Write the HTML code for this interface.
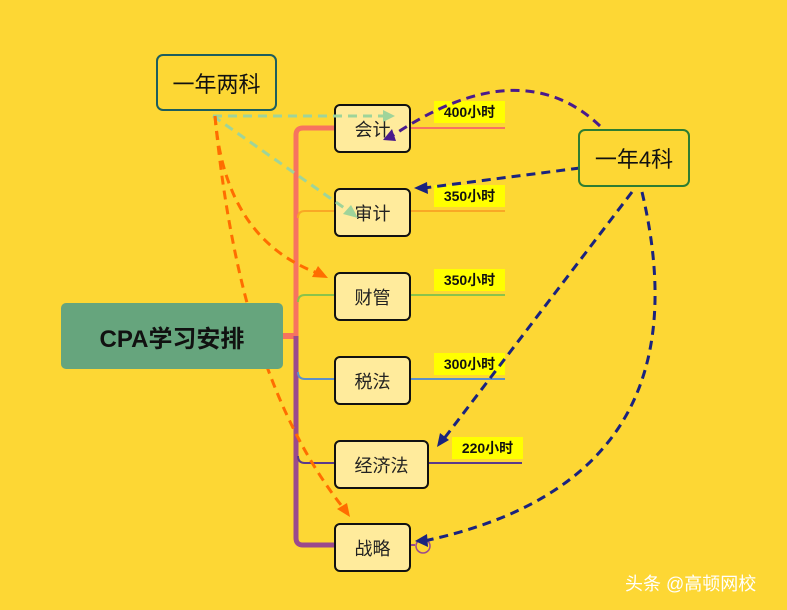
<!DOCTYPE html>
<html><head><meta charset="utf-8"><style>
body{margin:0;width:787px;height:610px;background:#fdd734;overflow:hidden;position:relative;font-family:"Liberation Sans","Noto Sans CJK SC",sans-serif}
.n{position:absolute;width:73px;height:45px;border:2px solid #111;border-radius:6px;background:#ffeb9c;font-size:18px;color:#222;display:flex;align-items:center;justify-content:center}
.l{position:absolute;background:#ffff00;font-size:14px;font-weight:bold;width:71px;height:22px;line-height:22px;text-align:center;color:#111}
.b{position:absolute;border-radius:7px;display:flex;align-items:center;justify-content:center;font-size:22px;color:#111;border:2px solid;z-index:3}
</style></head><body>
<svg width="787" height="610" style="position:absolute;left:0;top:0">
<path d="M283 336 H296" stroke="#f7735f" stroke-width="6"/>
<path d="M296 336 V135 Q296 128 303 128 H334" stroke="#f7735f" stroke-width="5" fill="none"/>
<path d="M296 336 V538 Q296 545 303 545 H334" stroke="#9b4a8c" stroke-width="5" fill="none"/>
<path d="M409 128 H505" stroke="#f7735f" stroke-width="2"/>
<path d="M298 218 Q298 211 305 211 H334 M409 211 H505" stroke="#f9a825" stroke-width="2" fill="none"/>
<path d="M298 302 Q298 295 305 295 H334 M409 295 H505" stroke="#8bc34a" stroke-width="2" fill="none"/>
<path d="M298 372 Q298 379 305 379 H334 M409 379 H505" stroke="#5c8fc9" stroke-width="2" fill="none"/>
<path d="M298 456 Q298 463 305 463 H334 M427 463 H522" stroke="#5b3a8a" stroke-width="2" fill="none"/>
<path d="M409 545 H415" stroke="#9b4a8c" stroke-width="2"/>
<circle cx="423" cy="546" r="7" fill="#fdd734" stroke="#9b4a8c" stroke-width="1.5"/>
</svg>
<div class="n" style="left:334px;top:104px">会计</div>
<div class="n" style="left:334px;top:188px">审计</div>
<div class="n" style="left:334px;top:272px">财管</div>
<div class="n" style="left:334px;top:356px">税法</div>
<div class="n" style="left:334px;top:440px;width:91px">经济法</div>
<div class="n" style="left:334px;top:523px">战略</div>
<div class="l" style="left:434px;top:101px">400小时</div>
<div class="l" style="left:434px;top:185px">350小时</div>
<div class="l" style="left:434px;top:269px">350小时</div>
<div class="l" style="left:434px;top:353px">300小时</div>
<div class="l" style="left:452px;top:437px">220小时</div>
<svg width="787" height="610" style="position:absolute;left:0;top:0;z-index:2">
<g fill="none" stroke-width="3" stroke-dasharray="9 6">
<path d="M213 116 H385" stroke="#9fd49a"/>
<path d="M213 116 L350 212" stroke="#9fd49a"/>
<path d="M215 116 Q225 240 320 274" stroke="#ff6d00"/>
<path d="M215 116 Q240 380 345 510" stroke="#ff6d00"/>
<path d="M600 126 Q520 50 392 136" stroke="#4a1a8c"/>
<path d="M580 168 L424 188" stroke="#1a237e"/>
<path d="M632 192 L443 440" stroke="#1a237e"/>
<path d="M642 192 Q710 480 424 541" stroke="#1a237e"/>
</g>
<polygon points="395,116 383,110 383,122" fill="#9fd49a"/>
<polygon points="358,218 343,214 351,205" fill="#9fd49a"/>
<polygon points="328,278 312,277 318,266" fill="#ff6d00"/>
<polygon points="350,517 337,509 347,503" fill="#ff6d00"/>
<polygon points="383,140 392,129 396,141" fill="#4a1a8c"/>
<polygon points="414,188 427,182 428,194" fill="#1a237e"/>
<polygon points="437,447 440,433 449,440" fill="#1a237e"/>
<polygon points="415,541 427,534 428,547" fill="#1a237e"/>
</svg>
<div class="b" style="left:61px;top:303px;width:222px;height:66px;background:#66a57d;border:none;border-radius:5px;font-weight:bold;font-size:24px">CPA学习安排</div>
<div class="b" style="left:156px;top:54px;width:117px;height:53px;border-color:#1d5e5e;background:#fdd734">一年两科</div>
<div class="b" style="left:578px;top:129px;width:108px;height:54px;border-color:#2e7d32;background:#fdd734">一年4科</div>
<div style="position:absolute;left:625px;top:570px;color:#fff;font-size:18px">头条 @高顿网校</div>
</body></html>
